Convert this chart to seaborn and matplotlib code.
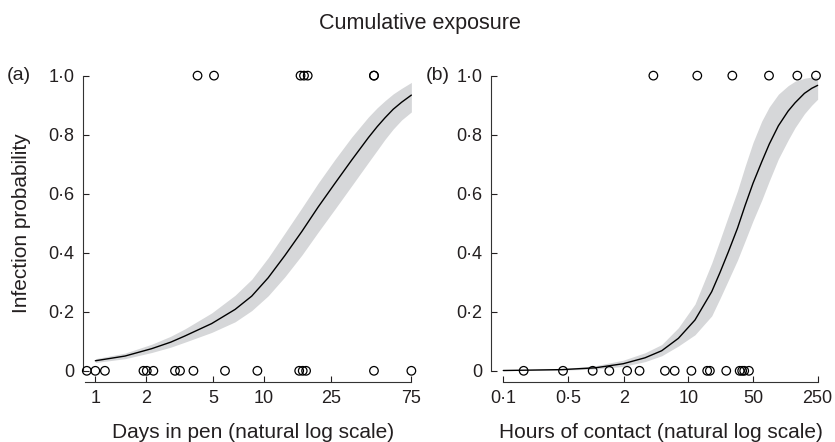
import numpy as np
import pandas as pd
import seaborn as sns
from matplotlib import pyplot as plt
from matplotlib.ticker import NullLocator

# observed outcomes (0 = not infected, 1 = infected)
days_pos = [4.04, 5.06, 16.5, 17.3, 18.2, 45.0, 45.0]
days_neg = [0.89, 1.0, 1.14, 1.93, 2.02, 2.21, 2.97, 3.18, 3.82, 5.88,
            9.15, 16.2, 17.0, 17.8, 45.0, 75.0]
hours_pos = [4.19, 12.5, 29.9, 74.5, 150.8, 239.9]
hours_neg = [0.166, 0.442, 0.925, 1.40, 2.18, 2.97, 5.59, 7.12, 10.8,
             16.0, 17.1, 25.7, 35.9, 38.2, 40.2, 45.2]

# fitted curves with confidence band
fit_days = [1.0, 1.5, 2.16, 2.8, 3.40, 4.90, 6.75, 8.47, 10.6, 13.3,
            16.8, 21.0, 26.4, 33.2, 41.7, 47.0, 52.3, 58.5, 65.7, 75.0]
fit_days_p = [0.034, 0.050, 0.075, 0.097, 0.118, 0.160, 0.208, 0.253,
              0.315, 0.390, 0.472, 0.555, 0.635, 0.714, 0.790, 0.827,
              0.857, 0.886, 0.910, 0.934]
fit_days_lo = [0.028, 0.041, 0.062, 0.080, 0.097, 0.130, 0.166, 0.204,
               0.254, 0.318, 0.392, 0.470, 0.548, 0.627, 0.706, 0.747,
               0.784, 0.819, 0.850, 0.877]
fit_days_hi = [0.041, 0.060, 0.090, 0.117, 0.142, 0.196, 0.256, 0.310,
               0.383, 0.466, 0.552, 0.636, 0.716, 0.792, 0.860, 0.891,
               0.915, 0.938, 0.957, 0.977]

fit_hours = [0.1, 0.427, 0.98, 1.98, 3.40, 5.16, 7.81, 11.8, 17.9, 22.0,
             27.1, 34.0, 41.1, 50.0, 62.2, 75.0, 94.1, 120.0, 142.6,
             180.0, 216.0, 250.0]
fit_hours_p = [0.001, 0.004, 0.010, 0.024, 0.044, 0.068, 0.110, 0.172,
               0.268, 0.333, 0.403, 0.483, 0.560, 0.635, 0.708, 0.768,
               0.830, 0.880, 0.908, 0.940, 0.957, 0.967]
fit_hours_lo = [0.0005, 0.002, 0.006, 0.015, 0.031, 0.051, 0.084, 0.122,
                0.186, 0.245, 0.307, 0.375, 0.440, 0.508, 0.578, 0.643,
                0.718, 0.782, 0.824, 0.871, 0.900, 0.920]
fit_hours_hi = [0.002, 0.007, 0.017, 0.036, 0.061, 0.089, 0.146, 0.226,
                0.365, 0.443, 0.524, 0.610, 0.693, 0.773, 0.846, 0.894,
                0.937, 0.966, 0.981, 0.991, 0.995, 0.995]

days_ticks = [1, 2, 5, 10, 25, 75]
hours_ticks = [0.1, 0.5, 2, 10, 50, 250]
prob_ticks = [0, 0.2, 0.4, 0.6, 0.8, 1.0]

TEXT = "#231f20"
BAND = "#d6d7d9"

sns.set_style("ticks")
plt.rcParams["font.family"] = ["Liberation Sans", "DejaVu Sans"]
plt.rcParams["text.color"] = TEXT
plt.rcParams["axes.labelcolor"] = TEXT
plt.rcParams["xtick.color"] = TEXT
plt.rcParams["ytick.color"] = TEXT


def fmt(v):
    """Tick label with the mid-dot decimal mark used by the journal."""
    if isinstance(v, float) and v == 1.0:
        s = "1.0"
    elif v >= 1 or v == 0:
        s = "{:g}".format(v)
    else:
        s = "{:.1f}".format(v)
    return s.replace(".", "\u00b7")


def panel(ax, pos, neg, fx, fp, flo, fhi, xlim, bounds, ticks, xlabel):
    ax.fill_between(fx, flo, fhi, color=BAND, lw=0, zorder=1)
    sns.lineplot(x=fx, y=fp, ax=ax, color="black", lw=1.0, zorder=2)
    pts = pd.DataFrame({"x": pos + neg,
                        "y": [1] * len(pos) + [0] * len(neg)})
    sns.scatterplot(data=pts, x="x", y="y", ax=ax, s=38, marker="o",
                    facecolor="none", edgecolor="black", linewidth=0.9,
                    zorder=3, clip_on=False)
    ax.set_xscale("log")
    ax.set_xlim(*xlim)
    ax.set_ylim(-0.038, 1.019)
    ax.xaxis.set_minor_locator(NullLocator())
    ax.set_xticks(ticks, [fmt(t) for t in ticks])
    ax.set_yticks(prob_ticks, [fmt(t) for t in prob_ticks])
    ax.tick_params(direction="in", length=4.5, width=0.8, labelsize=13,
                   pad=6)
    for side in ["top", "right"]:
        ax.spines[side].set_visible(False)
    ax.spines["left"].set_bounds(0, 1)
    ax.spines["bottom"].set_bounds(*bounds)
    for side in ["left", "bottom"]:
        ax.spines[side].set_linewidth(0.8)
        ax.spines[side].set_color("#333333")
    ax.set_xlabel(xlabel, fontsize=15)
    ax.set_ylabel("")


fig = plt.figure(figsize=(8.35, 4.42), dpi=100)
ax_a = fig.add_axes([0.0994, 0.1357, 0.3988, 0.7059])
ax_b = fig.add_axes([0.5880, 0.1357, 0.3964, 0.7059])

panel(ax_a, days_pos, days_neg, fit_days, fit_days_p, fit_days_lo,
      fit_days_hi, (0.845, 79.9), (0.87, 75), days_ticks,
      "Days in pen (natural log scale)")
panel(ax_b, hours_pos, hours_neg, fit_hours, fit_hours_p, fit_hours_lo,
      fit_hours_hi, (0.0736, 278.5), (0.1, 250), hours_ticks,
      "Hours of contact (natural log scale)")

ax_a.set_ylabel("Infection probability", fontsize=15)
ax_a.yaxis.set_label_coords(-0.155, 0.51)
ax_a.xaxis.set_label_coords(0.51, -0.13)
ax_b.xaxis.set_label_coords(0.514, -0.13)

fig.text(19 / 835, 1 - 76 / 442, "(a)", fontsize=14, ha="center",
         va="center")
fig.text(438 / 835, 1 - 76 / 442, "(b)", fontsize=14, ha="center",
         va="center")
fig.suptitle("Cumulative exposure", fontsize=15.5, y=1 - 23 / 442,
             va="center", x=0.503)

fig.savefig("out.png", dpi=100)
